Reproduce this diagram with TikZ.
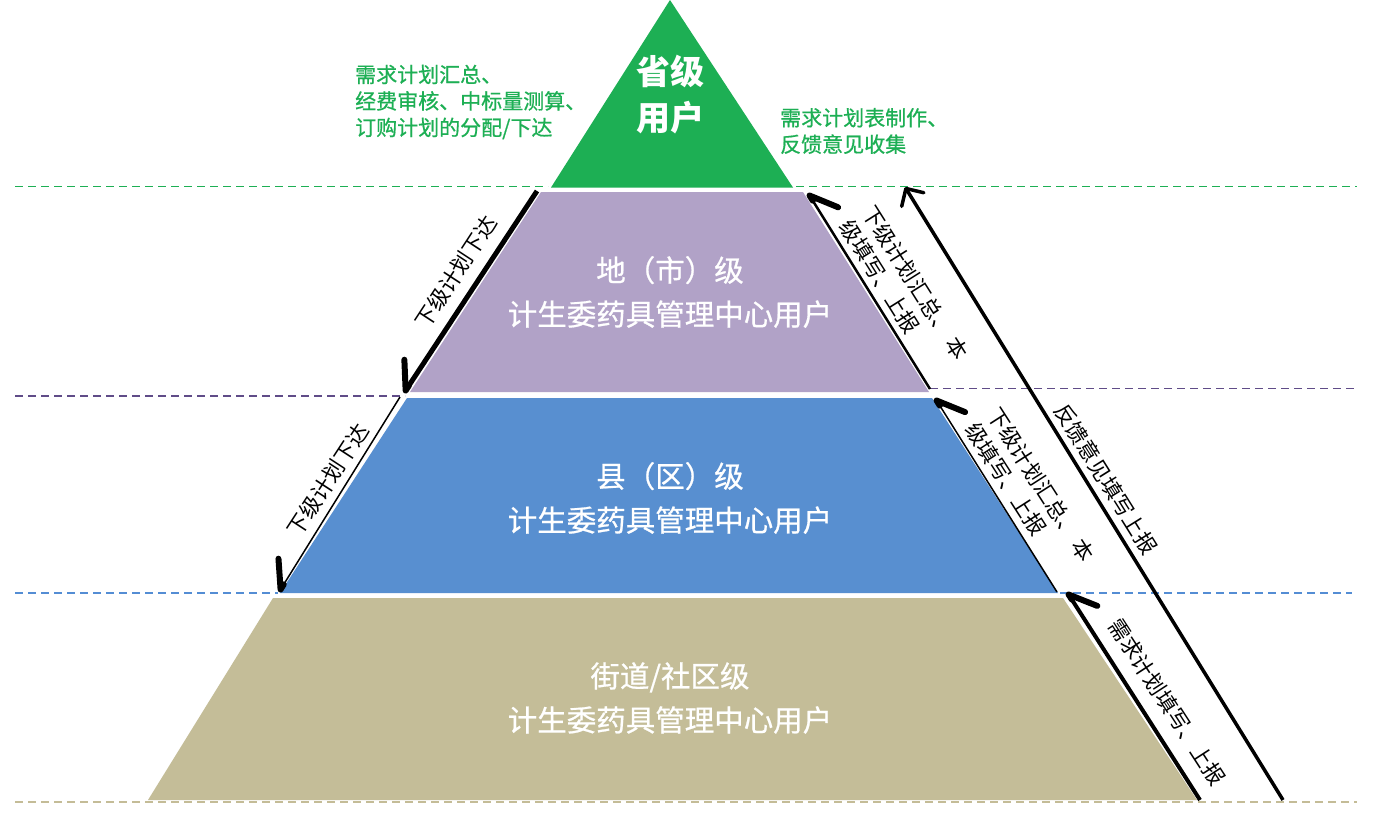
\documentclass[tikz,border=0pt]{standalone}
\usepackage{fontspec}
\newfontfamily\cjk{Noto Sans CJK SC}
\newfontfamily\cjkmed[FakeBold=0.7]{Noto Sans CJK SC}
\usetikzlibrary{arrows.meta}
\definecolor{lvgreen}{RGB}{29,175,84}
\definecolor{lvpurple}{RGB}{177,162,199}
\definecolor{lvblue}{RGB}{88,143,208}
\definecolor{lvtan}{RGB}{196,189,152}
\definecolor{dpurple}{RGB}{96,76,136}
\definecolor{dblue}{RGB}{84,141,212}
\definecolor{dtan}{RGB}{196,188,151}
\begin{document}
\begin{tikzpicture}[x=1pt,y=-1pt,
  guide/.style={line width=1.5pt, dash pattern=on 8pt off 5pt},
  layertext/.style={font=\cjkmed\fontsize{29.5}{44}\selectfont, text=white, align=center, inner sep=0pt},
  titletext/.style={font=\cjk\bfseries\fontsize{34}{46}\selectfont, text=white, align=center, inner sep=0pt},
  greentext/.style={font=\cjkmed\fontsize{21}{26.5}\selectfont, text=lvgreen, align=left, inner sep=0pt, anchor=west},
  lbl/.style={font=\cjk\fontsize{21.5}{27}\selectfont, text=black, align=left, inner sep=0pt},
  harp/.style={-{Straight Barb[harpoon,swap,length=25pt,width=36pt,line width=6pt 0,round]}},
  fullhead/.style={-{Straight Barb[length=13pt,width=26pt,line width=3.5pt 0,round]}}
]
\useasboundingbox (0,0) rectangle (1376,822);
\fill[white] (0,0) rectangle (1376,822);

% dashed level guides
\draw[guide, lvgreen] (15,186.5) -- (548,186.5);
\draw[guide, lvgreen] (796,186.5) -- (1357,186.5);
\draw[guide, dpurple] (15,396) -- (405,396);
\draw[guide, dpurple] (930,388.5) -- (1357,388.5);
\draw[guide, dblue] (15,593) -- (278,593);
\draw[guide, dblue] (1060,593) -- (1352,593);
\draw[guide, dtan] (15,802) -- (1357,802);

% pyramid layers
\fill[lvgreen] (670,0) -- (793,187.5) -- (551,187.5) -- cycle;
\fill[lvpurple] (541,192) -- (803,192) -- (929,392) -- (410,392) -- cycle;
\fill[lvblue] (407,398) -- (932,398) -- (1058,593) -- (280,593) -- cycle;
\fill[lvtan] (273,598) -- (1063,598) -- (1197,800) -- (148,800) -- cycle;

% layer texts
\node[titletext] (prov) at (670,95) {省级\\用户};
\node[layertext] (city) at (670,292) {地（市）级\\计生委药具管理中心用户};
\node[layertext] (county) at (670,498) {县（区）级\\计生委药具管理中心用户};
\node[layertext] (street) at (670,698) {街道/社区级\\计生委药具管理中心用户};

% green side notes
\node[greentext] (gleft) at (355,102) {需求计划汇总、\\经费审核、中标量测算、\\订购计划的分配/下达};
\node[greentext] (gright) at (780,131) {需求计划表制作、\\反馈意见收集};

% arrow end points
\coordinate (a1s) at (537,191);  \coordinate (a1e) at (404,393);
\coordinate (a2s) at (400,397);  \coordinate (a2e) at (279,592);
\coordinate (a3s) at (930,389);  \coordinate (a3e) at (808,193);
\coordinate (a4s) at (1057,592); \coordinate (a4e) at (935,398);
\coordinate (a5s) at (1200,800); \coordinate (a5e) at (1067,592);
\coordinate (a6s) at (1283,800); \coordinate (a6e) at (905,187);

\draw[line width=5pt, harp] (a1s) -- (a1e);
\draw[line width=1.5pt, harp] (a2s) -- (a2e);
\draw[line width=2.5pt, harp] (a3s) -- (a3e);
\draw[line width=1.5pt, harp] (a4s) -- (a4e);
\draw[line width=4pt, harp] (a5s) -- (a5e);
\draw[line width=3.5pt, fullhead] (a6s) -- (a6e);

% arrow labels
\node[lbl, rotate=56.8] (l1) at (456,272) {下级计划下达};
\node[lbl, rotate=56.9] (l2) at (328,480) {下级计划下达};
\node[lbl, rotate=-57.8] (r1) at (904,290) {下级计划汇总、 本\\级填写、上报};
\node[lbl, rotate=-57.3] (r2) at (1030,492) {下级计划汇总、 本\\级填写、上报};
\node[lbl, rotate=-57] (r3) at (1167,702) {需求计划填写、上报};
\node[lbl, rotate=-58] (r4) at (1106,479) {反馈意见填写上报};
\end{tikzpicture}
\end{document}
